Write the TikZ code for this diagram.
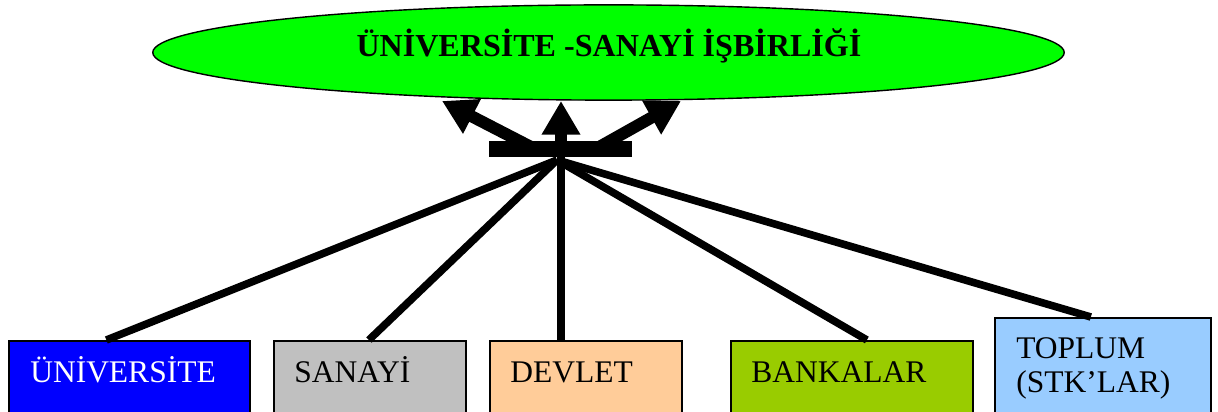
\documentclass[tikz,border=0pt]{standalone}
\usepackage{fontspec}
\setmainfont{Liberation Serif}
\usetikzlibrary{arrows.meta,shapes.geometric}
\definecolor{cuni}{RGB}{0,0,255}
\definecolor{csan}{RGB}{192,192,192}
\definecolor{cdev}{RGB}{255,204,153}
\definecolor{cban}{RGB}{153,204,0}
\definecolor{ctop}{RGB}{153,204,255}
\definecolor{cgreen}{RGB}{0,255,0}
\tikzset{
  entity/.style={draw=black, line width=1.2pt, anchor=north west, inner sep=0pt},
  lbl/.style={anchor=base west, inner sep=0pt, font=\fontsize{22.4}{25}\selectfont},
  feed/.style={line width=5.4pt, black},
  outarrow/.style={line width=8.5pt, black, -{Triangle[length=24pt,width=26pt]}},
}
\begin{document}
\begin{tikzpicture}[x=0.025cm, y=-0.025cm]
\useasboundingbox (0,0) rectangle (1218,412);
\clip (0,0) rectangle (1218,412);
% top ellipse
\node[ellipse, draw=black, line width=1pt, fill=cgreen, minimum width=22.78cm, minimum height=2.38cm, inner sep=0pt] (goal) at (608.5,52.5) {};
\node[inner sep=0pt, font=\fontsize{22.8}{26}\selectfont\bfseries] (title) at (609,46) {ÜNİVERSİTE -SANAYİ İŞBİRLİĞİ};
% boxes
\node[entity, fill=cuni, minimum width=6.025cm, minimum height=2.5cm] (uni) at (8,340) {};
\node[entity, fill=csan, minimum width=4.8cm, minimum height=2.5cm] (san) at (273,340) {};
\node[entity, fill=cdev, minimum width=4.8cm, minimum height=2.5cm] (dev) at (489,340) {};
\node[entity, fill=cban, minimum width=6.05cm, minimum height=2.5cm] (ban) at (730,340) {};
\node[entity, fill=ctop, minimum width=5.4cm, minimum height=3.2cm] (top) at (994,317) {};
\node[lbl, text=white] (unit) at (30,383) {ÜNİVERSİTE};
\node[lbl] (sant) at (294,383) {SANAYİ};
\node[lbl] (devt) at (510,383) {DEVLET};
\node[lbl] (bant) at (751,383) {BANKALAR};
\node[lbl] (topt1) at (1016,359) {TOPLUM};
\node[lbl] (topt2) at (1016,393) {(STK’LAR)};
% hub
\coordinate (hub) at (557,160);
\coordinate (srcl) at (535,149);
\coordinate (srcc) at (561,150);
\coordinate (srcr) at (592,151);
\node[fill=black, minimum width=3.575cm, minimum height=0.4cm, inner sep=0pt] (bar) at (560.5,149) {};
\coordinate (tl) at (442,101);
\coordinate (tc) at (561,101);
\coordinate (tr) at (681,101);
% feed lines
\draw[feed] ([xshift=-0.575cm]uni.north) -- (hub);
\draw[feed] ([xshift=-0.025cm]san.north) -- (hub);
\draw[feed] (dev.north west -| 561,0) -- (561,155);
\draw[feed] ([xshift=0.375cm]ban.north) -- (hub);
\draw[feed] ([xshift=-0.3cm]top.north) -- (hub);
% out arrows
\draw[outarrow] (srcl) -- (tl);
\draw[outarrow] (srcc) -- (tc);
\draw[outarrow] (srcr) -- (tr);
\end{tikzpicture}
\end{document}
